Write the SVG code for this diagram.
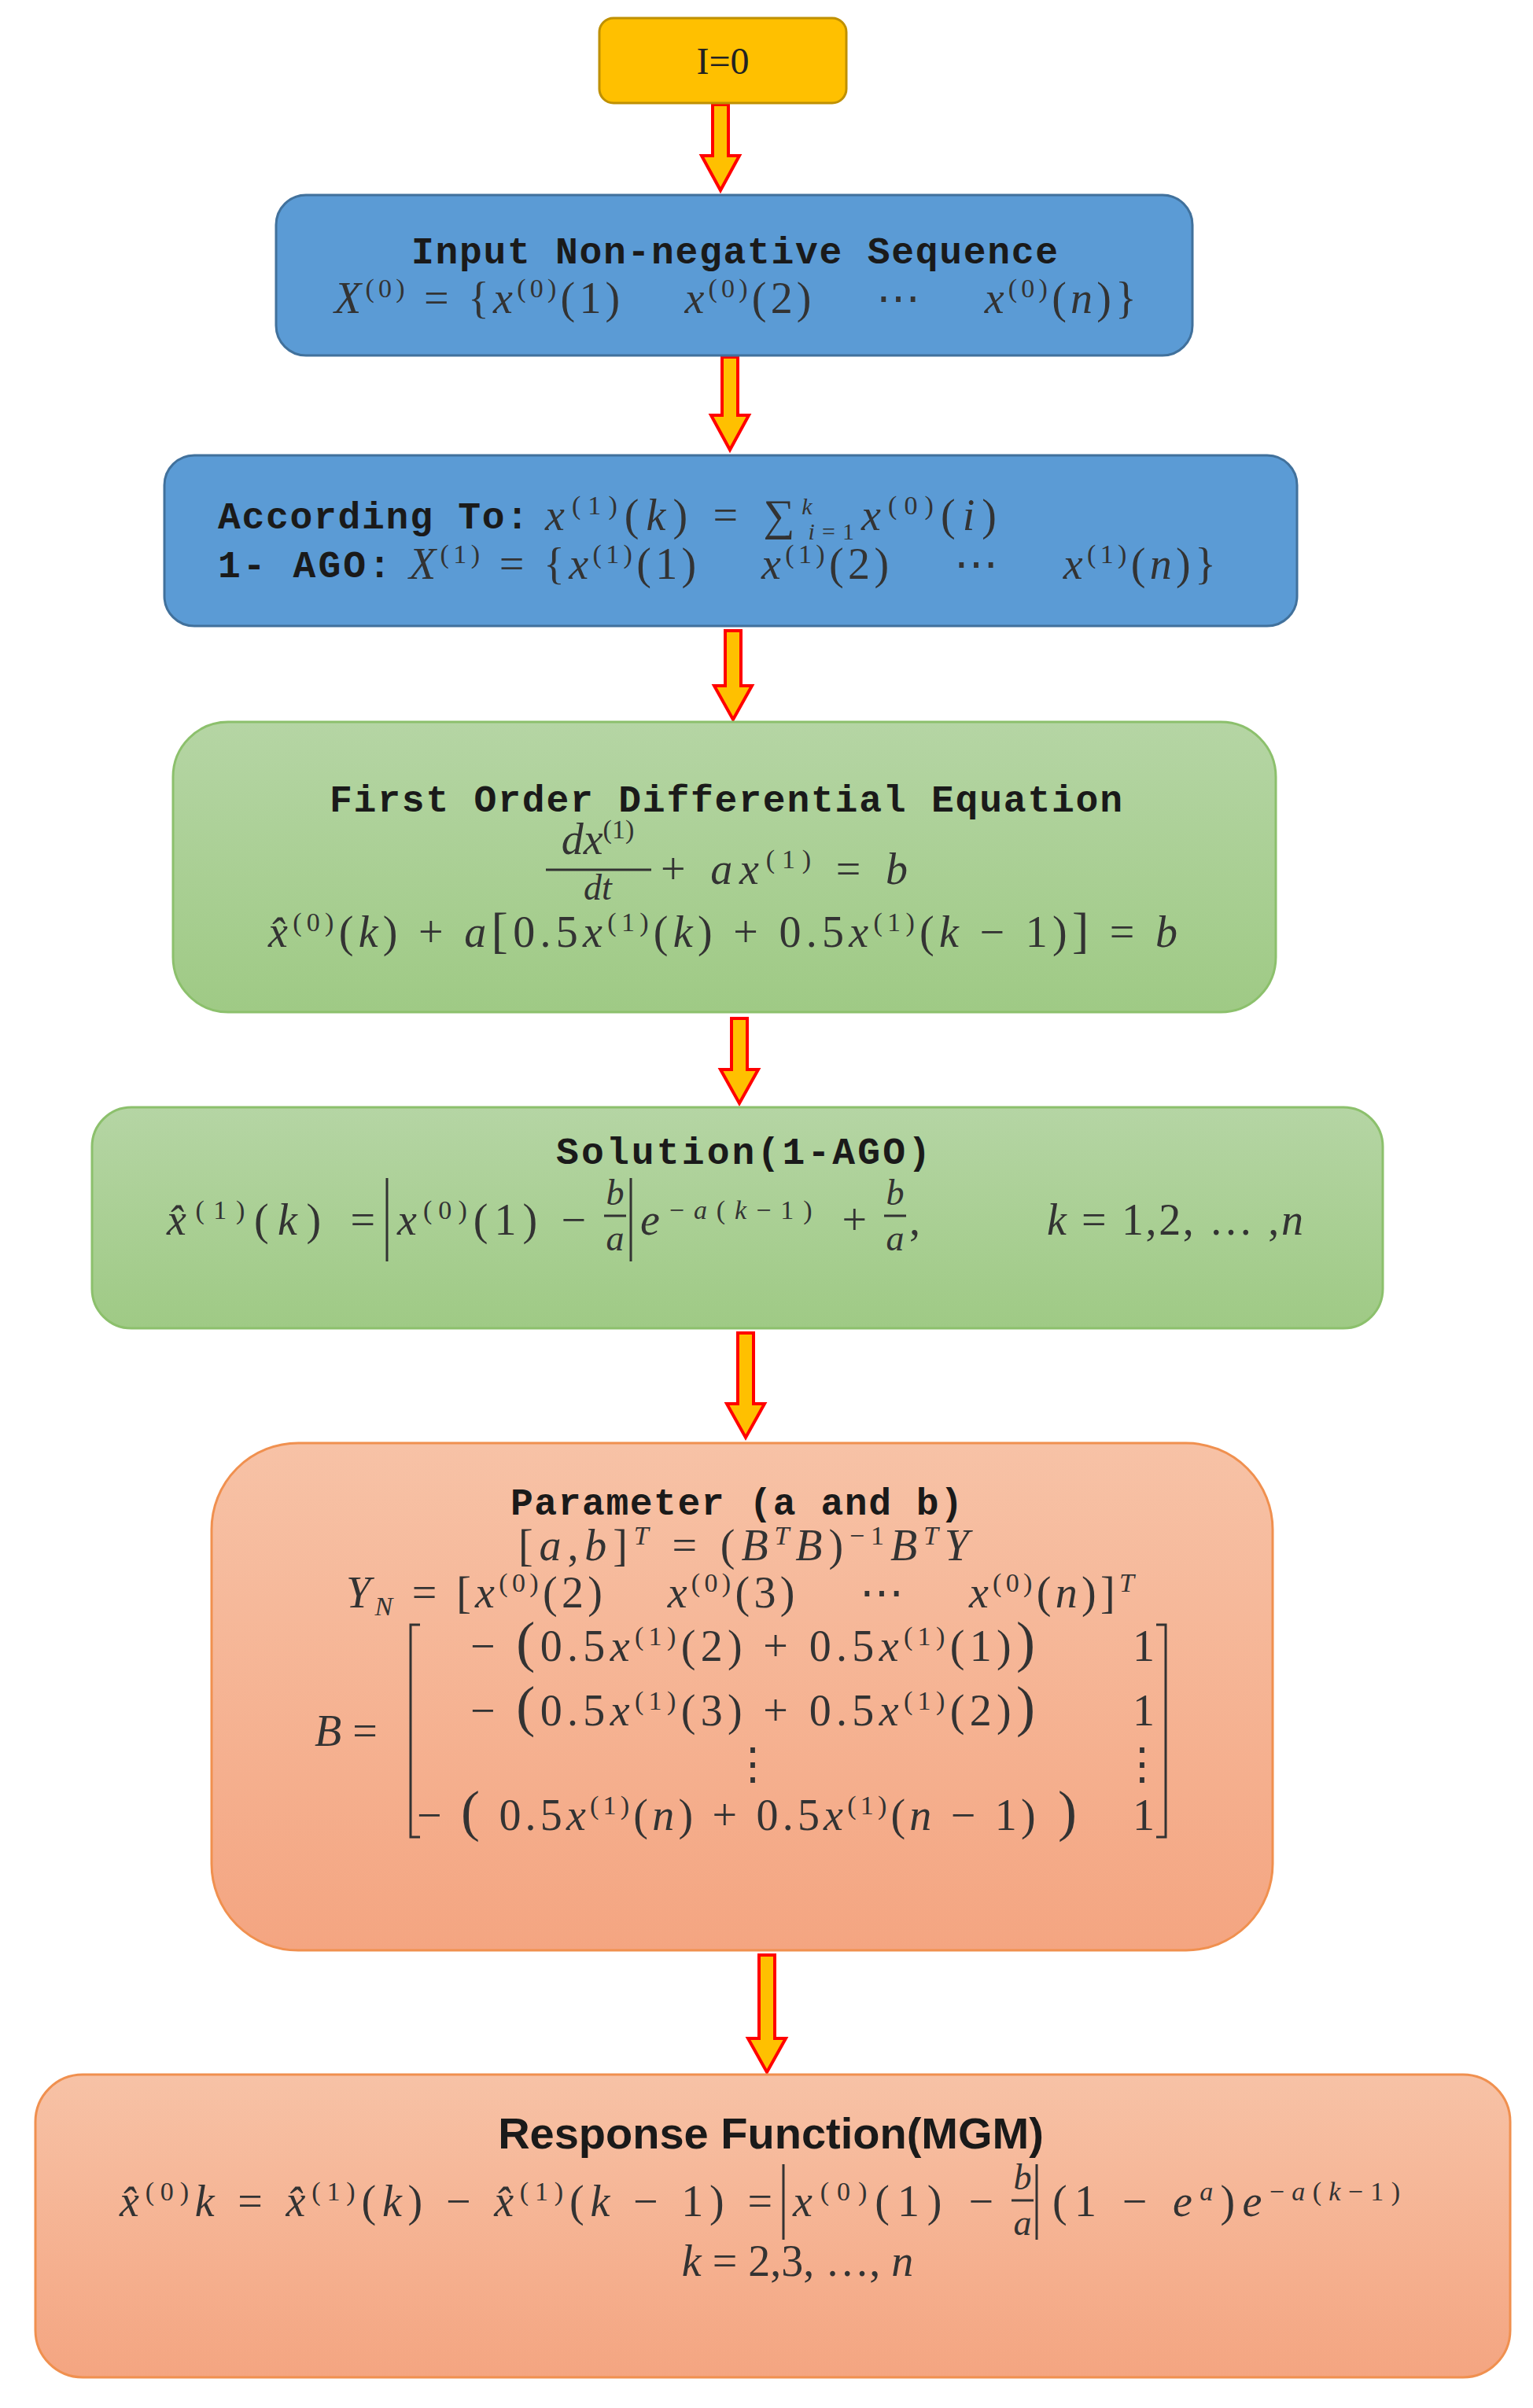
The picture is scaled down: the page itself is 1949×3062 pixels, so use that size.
<svg xmlns="http://www.w3.org/2000/svg" width="1949" height="3062" viewBox="0 0 1949 3062">
<defs>
<linearGradient id="gG" x1="0" y1="0" x2="0" y2="1"><stop offset="0" stop-color="#B5D5A4"/><stop offset="1" stop-color="#9FCA85"/></linearGradient>
<linearGradient id="gO" x1="0" y1="0" x2="0" y2="1"><stop offset="0" stop-color="#F7C2A6"/><stop offset="1" stop-color="#F4A581"/></linearGradient>
<style>
.t{font-family:"Liberation Mono","Noto Sans CJK SC",monospace;font-weight:bold;font-size:48px;fill:#1a1a1a}
.m{font-family:"Liberation Serif",serif;font-size:56px;fill:#333;white-space:pre}
.f{font-family:"Liberation Serif",serif;font-size:46px;fill:#333;font-style:italic}
.i{font-style:italic}
.blue{fill:#5B9BD5;stroke:#41719C;stroke-width:3}
.grn{fill:url(#gG);stroke:#8CC06C;stroke-width:3}
.org{fill:url(#gO);stroke:#F0904F;stroke-width:3}
.arr{fill:#FFC000;stroke:#FF0000;stroke-width:4;stroke-linejoin:miter}
.br{fill:none;stroke:#333;stroke-width:3}
</style>
</defs>
<g id="connectors">
<polygon class="arr" points="906,133 926,133 926,198 940,198 916,242 892,198 906,198"/>
<polygon class="arr" points="918,454 938,454 938,528 952,528 928,572 904,528 918,528"/>
<polygon class="arr" points="922,802 942,802 942,872 956,872 932,915 908,872 922,872"/>
<polygon class="arr" points="930,1295 950,1295 950,1360 964,1360 940,1403 916,1360 930,1360"/>
<polygon class="arr" points="938,1695 958,1695 958,1785 972,1785 948,1828 924,1785 938,1785"/>
<polygon class="arr" points="965,2486 985,2486 985,2592 999,2592 975,2635 951,2592 965,2592"/>
</g>
<g id="n-start">
<rect x="762" y="23" width="314" height="108" rx="18" fill="#FFC000" stroke="#BF9000" stroke-width="3"/>
<text x="919" y="94" font-family="Liberation Serif,serif" font-size="48" fill="#222" text-anchor="middle">I=0</text>
</g>
<g id="n-input">
<rect class="blue" x="351" y="248" width="1165" height="204" rx="38"/>
<text class="t" x="523" y="335" textLength="822">Input Non-negative Sequence</text>
<text class="m" x="425" y="398" textLength="1020"><tspan class="i">X</tspan><tspan dy="-20" font-size="34">(0)</tspan><tspan dy="20"> = {</tspan><tspan class="i">x</tspan><tspan dy="-20" font-size="34">(0)</tspan><tspan dy="20">(1)    </tspan><tspan class="i">x</tspan><tspan dy="-20" font-size="34">(0)</tspan><tspan dy="20">(2)    ⋯    </tspan><tspan class="i">x</tspan><tspan dy="-20" font-size="34">(0)</tspan><tspan dy="20">(</tspan><tspan class="i">n</tspan><tspan>)}</tspan></text>
</g>
<g id="n-ago">
<rect class="blue" x="209" y="579" width="1440" height="217" rx="38"/>
<text class="t" x="277" y="672" textLength="395">According To:</text>
<text class="m" x="693" y="674" textLength="574"><tspan class="i">x</tspan><tspan dy="-20" font-size="34">(1)</tspan><tspan dy="20">(</tspan><tspan class="i">k</tspan><tspan>) = ∑</tspan><tspan dy="-20" font-size="30" class="i">k</tspan><tspan dx="-14" dy="32" font-size="30"><tspan class="i">i</tspan>=1</tspan><tspan dy="-12" class="i">x</tspan><tspan dy="-20" font-size="34">(0)</tspan><tspan dy="20">(</tspan><tspan class="i">i</tspan><tspan>)</tspan></text>
<text class="t" x="277" y="734" textLength="220">1- AGO:</text>
<text class="m" x="520" y="736" textLength="1026"><tspan class="i">X</tspan><tspan dy="-20" font-size="34">(1)</tspan><tspan dy="20"> = {</tspan><tspan class="i">x</tspan><tspan dy="-20" font-size="34">(1)</tspan><tspan dy="20">(1)    </tspan><tspan class="i">x</tspan><tspan dy="-20" font-size="34">(1)</tspan><tspan dy="20">(2)    ⋯    </tspan><tspan class="i">x</tspan><tspan dy="-20" font-size="34">(1)</tspan><tspan dy="20">(</tspan><tspan class="i">n</tspan><tspan>)}</tspan></text>
</g>
<g id="n-diff">
<rect class="grn" x="220" y="918" width="1402" height="369" rx="70"/>
<text class="t" x="419" y="1032" textLength="1008">First Order Differential Equation</text>
<text class="m" x="760" y="1086" text-anchor="middle"><tspan class="i">dx</tspan><tspan dy="-20" font-size="34">(1)</tspan></text>
<line x1="694" y1="1106" x2="828" y2="1106" stroke="#333" stroke-width="3"/>
<text class="f" x="760" y="1144" text-anchor="middle">dt</text>
<text class="m" x="840" y="1124" textLength="314"><tspan>+ </tspan><tspan class="i">ax</tspan><tspan dy="-20" font-size="34">(1)</tspan><tspan dy="20"> = </tspan><tspan class="i">b</tspan></text>
<text class="m" x="341" y="1204" textLength="1156"><tspan class="i">x̂</tspan><tspan dy="-20" font-size="34">(0)</tspan><tspan dy="20">(</tspan><tspan class="i">k</tspan><tspan>) + </tspan><tspan class="i">a</tspan><tspan font-size="64">[</tspan><tspan>0.5</tspan><tspan class="i">x</tspan><tspan dy="-20" font-size="34">(1)</tspan><tspan dy="20">(</tspan><tspan class="i">k</tspan><tspan>) + 0.5</tspan><tspan class="i">x</tspan><tspan dy="-20" font-size="34">(1)</tspan><tspan dy="20">(</tspan><tspan class="i">k</tspan><tspan> − 1)</tspan><tspan font-size="64">]</tspan><tspan> = </tspan><tspan class="i">b</tspan></text>
</g>
<g id="n-sol">
<rect class="grn" x="117" y="1408" width="1641" height="281" rx="50"/>
<text class="t" x="707" y="1480" textLength="476">Solution(1-AGO)</text>
<text class="m" x="212" y="1570" textLength="265"><tspan class="i">x̂</tspan><tspan dy="-20" font-size="34">(1)</tspan><tspan dy="20">(</tspan><tspan class="i">k</tspan><tspan>) =</tspan></text>
<path class="br" d="M492,1498 V1604 M802,1498 V1604"/>
<text class="m" x="505" y="1570" textLength="240"><tspan class="i">x</tspan><tspan dy="-20" font-size="34">(0)</tspan><tspan dy="20">(1) −</tspan></text>
<text class="f" x="782" y="1532" text-anchor="middle">b</text>
<line x1="768" y1="1546" x2="796" y2="1546" stroke="#333" stroke-width="3"/>
<text class="f" x="782" y="1590" text-anchor="middle">a</text>
<text class="m" x="814" y="1570" textLength="288"><tspan class="i">e</tspan><tspan dy="-20" font-size="34">−<tspan class="i">a</tspan>(<tspan class="i">k</tspan>−1)</tspan><tspan dy="20"> +</tspan></text>
<text class="f" x="1138" y="1532" text-anchor="middle">b</text>
<line x1="1124" y1="1546" x2="1152" y2="1546" stroke="#333" stroke-width="3"/>
<text class="f" x="1138" y="1590" text-anchor="middle">a</text>
<text class="m" x="1156" y="1570">,</text>
<text class="m" x="1331" y="1570" textLength="326"><tspan class="i">k</tspan><tspan> = 1,2, … ,</tspan><tspan class="i">n</tspan></text>
</g>
<g id="n-param">
<rect class="org" x="269" y="1835" width="1349" height="645" rx="110"/>
<text class="t" x="649" y="1926" textLength="575">Parameter (a and b)</text>
<text class="m" x="659" y="1984" textLength="573" fill="#555">[<tspan class="i">a</tspan>,<tspan class="i">b</tspan>]<tspan dy="-20" font-size="34" class="i">T</tspan><tspan dy="20"> = (</tspan><tspan class="i">B</tspan><tspan dy="-20" font-size="34" class="i">T</tspan><tspan dy="20" class="i">B</tspan>)<tspan dy="-20" font-size="34">−1</tspan><tspan dy="20" class="i">B</tspan><tspan dy="-20" font-size="34" class="i">T</tspan><tspan dy="20" class="i">Y</tspan></text>
<text class="m" x="440" y="2044" textLength="1002"><tspan class="i">Y</tspan><tspan dy="10" font-size="34" class="i">N</tspan><tspan dy="-10"> = [</tspan><tspan class="i">x</tspan><tspan dy="-20" font-size="34">(0)</tspan><tspan dy="20">(2)    </tspan><tspan class="i">x</tspan><tspan dy="-20" font-size="34">(0)</tspan><tspan dy="20">(3)    ⋯    </tspan><tspan class="i">x</tspan><tspan dy="-20" font-size="34">(0)</tspan><tspan dy="20">(</tspan><tspan class="i">n</tspan><tspan>)]</tspan><tspan dy="-20" font-size="34" class="i">T</tspan></text>
<text class="m" x="400" y="2220"><tspan class="i">B</tspan><tspan> =</tspan></text>
<path class="br" d="M534,2066 H522 V2336 H534 M1470,2066 H1482 V2336 H1470"/>
<text class="m" x="598" y="2112" textLength="718">− <tspan font-size="72">(</tspan>0.5<tspan class="i">x</tspan><tspan dy="-20" font-size="34">(1)</tspan><tspan dy="20">(2) + 0.5</tspan><tspan class="i">x</tspan><tspan dy="-20" font-size="34">(1)</tspan><tspan dy="20">(1)</tspan><tspan font-size="72">)</tspan></text>
<text class="m" x="1440" y="2112">1</text>
<text class="m" x="598" y="2194" textLength="718">− <tspan font-size="72">(</tspan>0.5<tspan class="i">x</tspan><tspan dy="-20" font-size="34">(1)</tspan><tspan dy="20">(3) + 0.5</tspan><tspan class="i">x</tspan><tspan dy="-20" font-size="34">(1)</tspan><tspan dy="20">(2)</tspan><tspan font-size="72">)</tspan></text>
<text class="m" x="1440" y="2194">1</text>
<text class="m" x="957" y="2262" text-anchor="middle">⋮</text>
<text class="m" x="1452" y="2262" text-anchor="middle">⋮</text>
<text class="m" x="530" y="2327" textLength="839">− <tspan font-size="72">(</tspan> 0.5<tspan class="i">x</tspan><tspan dy="-20" font-size="34">(1)</tspan><tspan dy="20">(</tspan><tspan class="i">n</tspan>) + 0.5<tspan class="i">x</tspan><tspan dy="-20" font-size="34">(1)</tspan><tspan dy="20">(</tspan><tspan class="i">n</tspan> − 1)<tspan font-size="72"> )</tspan></text>
<text class="m" x="1440" y="2327">1</text>
</g>
<g id="n-resp">
<rect class="org" x="45" y="2638" width="1875" height="385" rx="60"/>
<text x="980" y="2732" font-family="Liberation Sans,Arial,sans-serif" font-weight="bold" font-size="56" fill="#1a1a1a" text-anchor="middle">Response Function(MGM)</text>
<text class="m" x="152" y="2818" textLength="830"><tspan class="i">x̂</tspan><tspan dy="-20" font-size="34">(0)</tspan><tspan dy="20" class="i">k</tspan><tspan> = </tspan><tspan class="i">x̂</tspan><tspan dy="-20" font-size="34">(1)</tspan><tspan dy="20">(</tspan><tspan class="i">k</tspan><tspan>) − </tspan><tspan class="i">x̂</tspan><tspan dy="-20" font-size="34">(1)</tspan><tspan dy="20">(</tspan><tspan class="i">k</tspan><tspan> − 1) =</tspan></text>
<path class="br" d="M996,2752 V2848 M1318,2752 V2848"/>
<text class="m" x="1008" y="2818" textLength="255"><tspan class="i">x</tspan><tspan dy="-20" font-size="34">(0)</tspan><tspan dy="20">(1) −</tspan></text>
<text class="f" x="1300" y="2784" text-anchor="middle">b</text>
<line x1="1286" y1="2798" x2="1314" y2="2798" stroke="#333" stroke-width="3"/>
<text class="f" x="1300" y="2842" text-anchor="middle">a</text>
<text class="m" x="1338" y="2818" textLength="442"><tspan>(1 − </tspan><tspan class="i">e</tspan><tspan dy="-20" font-size="34" class="i">a</tspan><tspan dy="20">)</tspan><tspan class="i">e</tspan><tspan dy="-20" font-size="34">−<tspan class="i">a</tspan>(<tspan class="i">k</tspan>−1)</tspan></text>
<text class="m" x="1014" y="2894" text-anchor="middle"><tspan class="i">k</tspan><tspan> = 2,3, …, </tspan><tspan class="i">n</tspan></text>
</g>
</svg>
